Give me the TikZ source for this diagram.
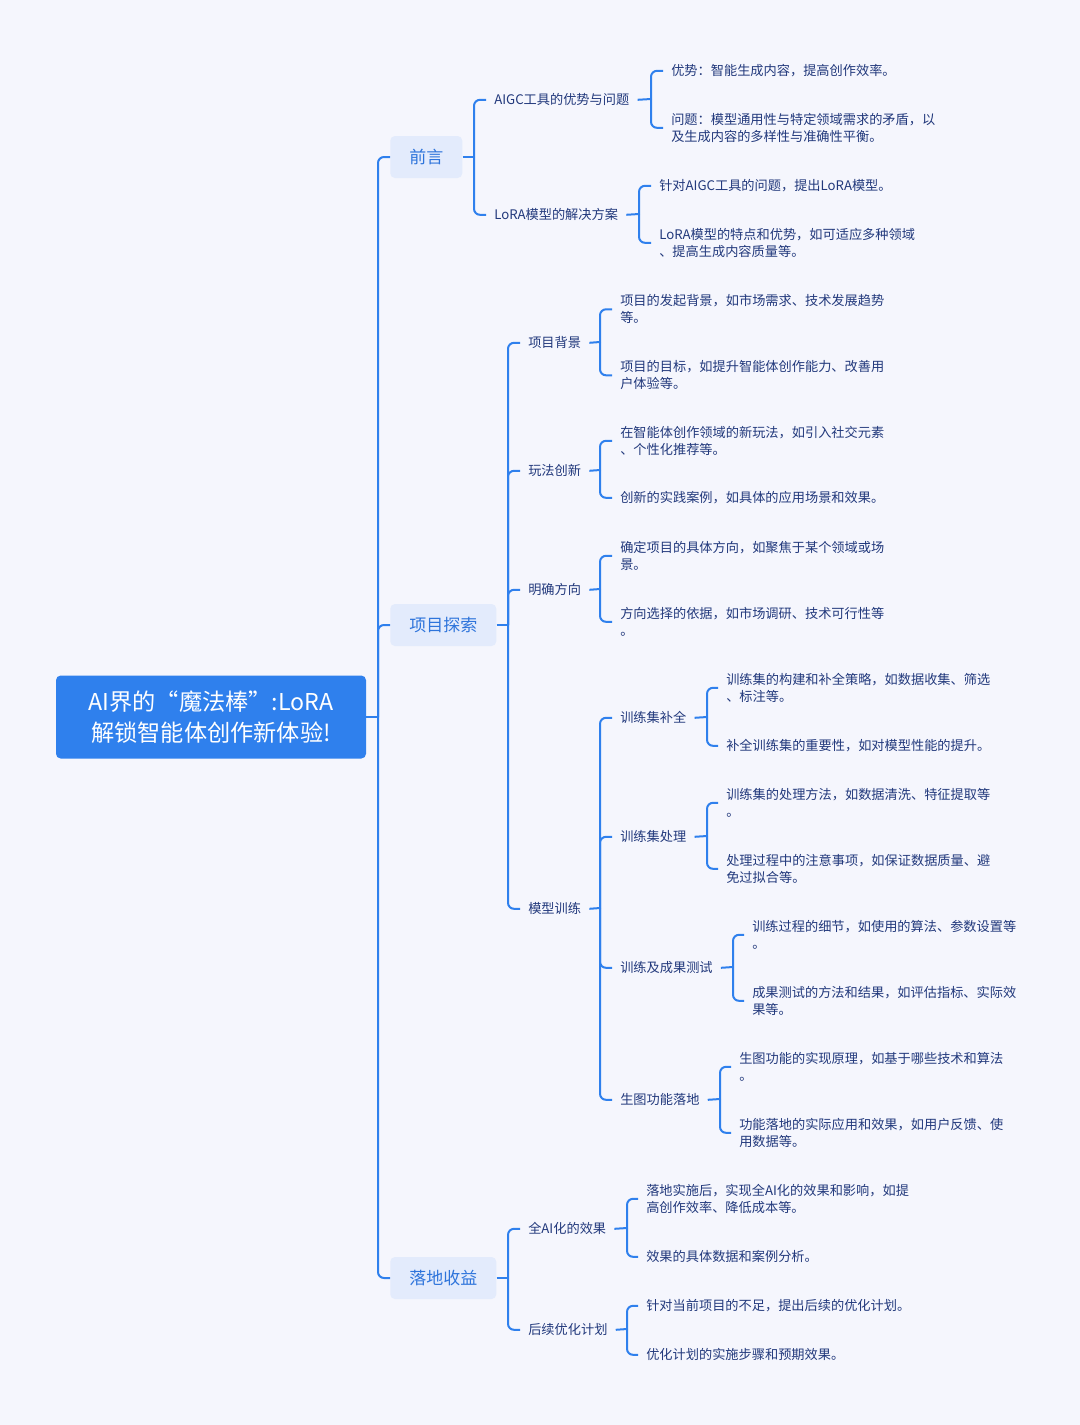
\documentclass[tikz,border=0pt]{standalone}
\usepackage{fontspec}
\setmainfont{Noto Sans CJK SC}
\definecolor{bgc}{HTML}{F5F6FD}
\definecolor{lineblue}{HTML}{2F80ED}
\definecolor{lonefill}{HTML}{E3EBFC}
\definecolor{lonetext}{HTML}{2E74DB}
\definecolor{navy}{HTML}{22397C}
\tikzset{
  conn/.style={draw=lineblue, line width=1.5pt, rounded corners=4.5pt},
  rootbox/.style={fill=lineblue, rounded corners=3.5pt, text=white, align=center,
    font=\fontsize{17.4pt}{23.25pt}\selectfont, minimum width=232.5pt, minimum height=62.25pt},
  lonebox/.style={fill=lonefill, rounded corners=3.5pt, text=lonetext, anchor=west,
    font=\fontsize{12.75pt}{15pt}\selectfont, minimum height=31.5pt, inner xsep=14.25pt},
  ltwo/.style={text=navy, anchor=west, align=left, inner xsep=6pt, inner ysep=1pt, yshift=-0.6pt,
    font=\fontsize{9.9pt}{12.75pt}\selectfont},
  leaf/.style={ltwo},
}
\begin{document}
\begin{tikzpicture}[x=0.75pt,y=-0.75pt]
\fill[bgc] (0,0) rectangle (1080,1425);
\useasboundingbox (0,0) rectangle (1080,1425);

% root
\node[rootbox] (root) at (211,717) {AI界的“魔法棒”:LoRA\\解锁智能体创作新体验!};

% level 1
\node[lonebox] (qy) at (390,157) {前言};
\node[lonebox] (xm) at (390,625) {项目探索};
\node[lonebox] (ld) at (390,1278) {落地收益};

% level 2 under 前言
\node[ltwo] (a1) at (486,99) {AIGC工具的优势与问题};
\node[ltwo] (a2) at (486,214) {LoRA模型的解决方案};
\node[leaf] (a1x) at (663,70) {优势：智能生成内容，提高创作效率。};
\node[leaf] (a1y) at (663,127) {问题：模型通用性与特定领域需求的矛盾，以\\及生成内容的多样性与准确性平衡。};
\node[leaf] (a2x) at (651,185) {针对AIGC工具的问题，提出LoRA模型。};
\node[leaf] (a2y) at (651,242) {LoRA模型的特点和优势，如可适应多种领域\\、提高生成内容质量等。};

% level 2 under 项目探索
\node[ltwo] (c1) at (520,342) {项目背景};
\node[ltwo] (c2) at (520,470) {玩法创新};
\node[ltwo] (c3) at (520,589) {明确方向};
\node[ltwo] (c4) at (520,908) {模型训练};
\node[leaf] (c1x) at (612,308.5) {项目的发起背景，如市场需求、技术发展趋势\\等。};
\node[leaf] (c1y) at (612,374.5) {项目的目标，如提升智能体创作能力、改善用\\户体验等。};
\node[leaf] (c2x) at (612,440) {在智能体创作领域的新玩法，如引入社交元素\\、个性化推荐等。};
\node[leaf] (c2y) at (612,497) {创新的实践案例，如具体的应用场景和效果。};
\node[leaf] (c3x) at (612,555) {确定项目的具体方向，如聚焦于某个领域或场\\景。};
\node[leaf] (c3y) at (612,621) {方向选择的依据，如市场调研、技术可行性等\\。};

% level 3 under 模型训练
\node[ltwo] (d1) at (612,717) {训练集补全};
\node[ltwo] (d2) at (612,836) {训练集处理};
\node[ltwo] (d3) at (612,967) {训练及成果测试};
\node[ltwo] (d4) at (612,1099) {生图功能落地};
\node[leaf] (d1x) at (718,687) {训练集的构建和补全策略，如数据收集、筛选\\、标注等。};
\node[leaf] (d1y) at (718,745) {补全训练集的重要性，如对模型性能的提升。};
\node[leaf] (d2x) at (718,802) {训练集的处理方法，如数据清洗、特征提取等\\。};
\node[leaf] (d2y) at (718,868) {处理过程中的注意事项，如保证数据质量、避\\免过拟合等。};
\node[leaf] (d3x) at (744,934) {训练过程的细节，如使用的算法、参数设置等\\。};
\node[leaf] (d3y) at (744,1000) {成果测试的方法和结果，如评估指标、实际效\\果等。};
\node[leaf] (d4x) at (731,1066) {生图功能的实现原理，如基于哪些技术和算法\\。};
\node[leaf] (d4y) at (731,1132) {功能落地的实际应用和效果，如用户反馈、使\\用数据等。};

% level 2 under 落地收益
\node[ltwo] (e1) at (520,1228) {全AI化的效果};
\node[ltwo] (e2) at (520,1329) {后续优化计划};
\node[leaf] (e1x) at (638,1198) {落地实施后，实现全AI化的效果和影响，如提\\高创作效率、降低成本等。};
\node[leaf] (e1y) at (638,1256) {效果的具体数据和案例分析。};
\node[leaf] (e2x) at (638,1305) {针对当前项目的不足，提出后续的优化计划。};
\node[leaf] (e2y) at (638,1354) {优化计划的实施步骤和预期效果。};

% bracket junctions
\coordinate (b0) at (378,717);
\coordinate (bq) at (474,157);
\coordinate (bx) at (508,625);
\coordinate (bl) at (508,1278);
\coordinate (ba1) at (651,99);
\coordinate (ba2) at (639,214);
\coordinate (bc1) at (600,342);
\coordinate (bc2) at (600,470);
\coordinate (bc3) at (600,589);
\coordinate (bc4) at (600,908);
\coordinate (bd1) at (707,717);
\coordinate (bd2) at (707,836);
\coordinate (bd3) at (733,967);
\coordinate (bd4) at (720,1099);
\coordinate (be1) at (627,1228);
\coordinate (be2) at (627,1329);

% connectors
\draw[conn] (root.east) -- (b0);
\foreach \c in {qy,xm,ld} \draw[conn] (b0) |- (\c.west);
\draw[conn] (qy.east) -- (bq);
\foreach \c in {a1,a2} \draw[conn] (bq) |- (\c.west);
\draw[conn] (xm.east) -- (bx);
\foreach \c in {c1,c2,c3,c4} \draw[conn] (bx) |- (\c.west);
\draw[conn] (ld.east) -- (bl);
\foreach \c in {e1,e2} \draw[conn] (bl) |- (\c.west);

\draw[conn] (a1.east) -- (ba1);
\foreach \c in {a1x,a1y} \draw[conn] (ba1) |- (\c.west);
\draw[conn] (a2.east) -- (ba2);
\foreach \c in {a2x,a2y} \draw[conn] (ba2) |- (\c.west);

\draw[conn] (c1.east) -- (bc1);
\foreach \c in {c1x,c1y} \draw[conn] (bc1) |- (\c.west);
\draw[conn] (c2.east) -- (bc2);
\foreach \c in {c2x,c2y} \draw[conn] (bc2) |- (\c.west);
\draw[conn] (c3.east) -- (bc3);
\foreach \c in {c3x,c3y} \draw[conn] (bc3) |- (\c.west);
\draw[conn] (c4.east) -- (bc4);
\foreach \c in {d1,d2,d3,d4} \draw[conn] (bc4) |- (\c.west);

\draw[conn] (d1.east) -- (bd1);
\foreach \c in {d1x,d1y} \draw[conn] (bd1) |- (\c.west);
\draw[conn] (d2.east) -- (bd2);
\foreach \c in {d2x,d2y} \draw[conn] (bd2) |- (\c.west);
\draw[conn] (d3.east) -- (bd3);
\foreach \c in {d3x,d3y} \draw[conn] (bd3) |- (\c.west);
\draw[conn] (d4.east) -- (bd4);
\foreach \c in {d4x,d4y} \draw[conn] (bd4) |- (\c.west);

\draw[conn] (e1.east) -- (be1);
\foreach \c in {e1x,e1y} \draw[conn] (be1) |- (\c.west);
\draw[conn] (e2.east) -- (be2);
\foreach \c in {e2x,e2y} \draw[conn] (be2) |- (\c.west);
\end{tikzpicture}
\end{document}
